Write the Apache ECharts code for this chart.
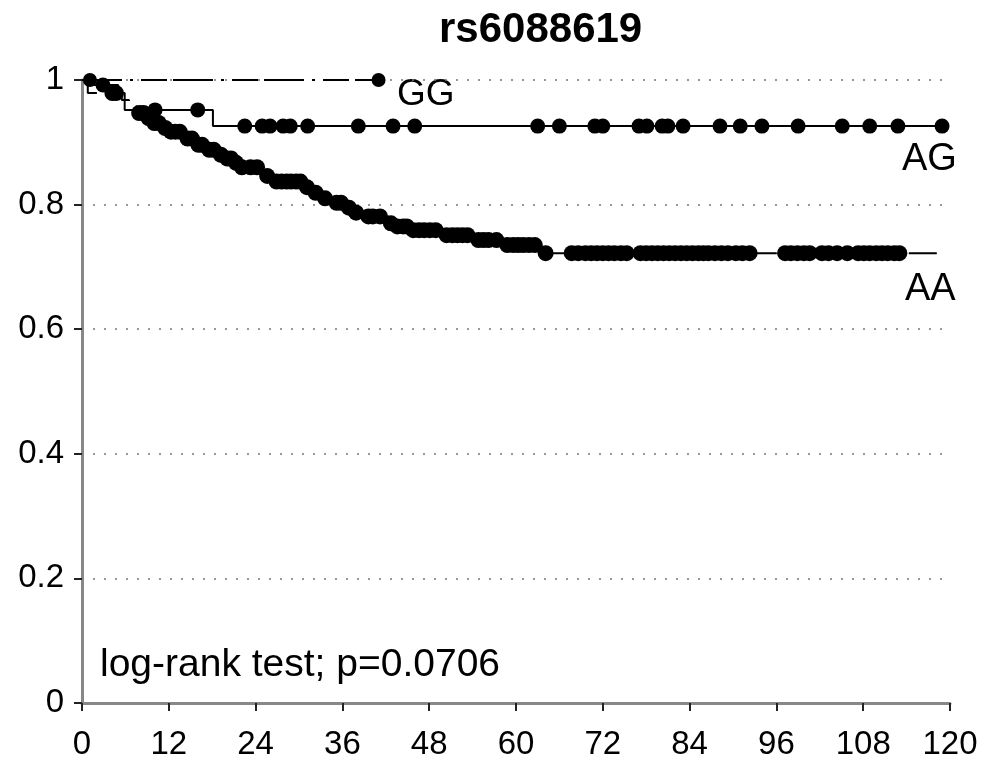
<!DOCTYPE html>
<html>
<head>
<meta charset="utf-8">
<script src="https://cdn.jsdelivr.net/npm/echarts@6/dist/echarts.min.js"></script>
<style>
html,body{margin:0;padding:0;background:#fff;}
#chart{width:981px;height:763px;}
</style>
</head>
<body>
<div id="chart"></div>
<script>
// ---- data ----
const xTicks = [0, 12, 24, 36, 48, 60, 72, 84, 96, 108, 120];
const yTicks = [0, 0.2, 0.4, 0.6, 0.8, 1];

// AA (step function: time where level begins, survival level)
const aaStepTimes = [0, 0.8, 5.5, 6.5, 7.5, 9.0, 9.7, 11.2, 12.0, 14.2, 15.8, 17.2, 18.8, 19.8, 21.0, 21.9, 25.2, 26.4, 30.8, 31.8, 33.0, 34.6, 36.5, 37.6, 39.0, 42.4, 43.3, 45.4, 49.8, 54.3, 58.3, 63.4, 119.6];
const aaStepSurv  = [1, 0.979, 0.968, 0.958, 0.947, 0.939, 0.931, 0.923, 0.917, 0.906, 0.896, 0.888, 0.880, 0.874, 0.867, 0.860, 0.846, 0.837, 0.828, 0.819, 0.810, 0.803, 0.795, 0.787, 0.781, 0.770, 0.765, 0.759, 0.751, 0.743, 0.735, 0.722, 0.722];
const aaCensorTimes = [4.2, 4.7, 7.9, 8.5, 9.2, 10.0, 10.6, 11.5, 12.3, 12.9, 13.5, 14.6, 15.2, 16.1, 16.6, 17.6, 18.2, 19.2, 20.1, 20.6, 21.3, 22.1, 23.3, 24.2, 25.6, 26.9, 27.6, 28.3, 28.9, 29.6, 30.2, 31.1, 32.3, 33.6, 35.2, 35.8, 36.9, 37.9, 39.6, 40.2, 41.2, 42.7, 43.6, 44.4, 44.9, 45.8, 46.6, 47.3, 48.1, 48.9, 50.4, 51.2, 51.9, 52.6, 53.3, 54.8, 55.5, 56.2, 57.3, 58.8, 59.6, 60.3, 61.0, 61.8, 62.6, 64.1, 67.7, 68.6, 69.6, 70.4, 71.2, 72.0, 72.8, 73.6, 74.5, 75.3, 77.2, 78.0, 78.8, 79.6, 80.4, 81.2, 82.0, 82.8, 83.6, 84.4, 85.2, 85.9, 86.6, 87.5, 88.4, 89.3, 90.4, 91.3, 92.3, 97.2, 98.0, 98.9, 99.8, 100.6, 102.3, 103.2, 104.4, 105.8, 107.3, 108.1, 108.9, 109.8, 110.6, 111.4, 112.3, 113.0];

// AG
const agStepTimes = [0, 0.8, 5.0, 5.9, 18.1, 118.9];
const agStepSurv  = [1, 0.992, 0.979, 0.952, 0.926, 0.926];
const agCensorTimes = [2.9, 10.1, 16.0, 22.5, 24.9, 26.0, 27.8, 28.8, 31.2, 38.2, 43.0, 46.0, 63.0, 66.0, 70.9, 72.0, 77.0, 78.1, 80.2, 81.0, 83.1, 88.2, 91.0, 94.0, 99.0, 105.1, 108.9, 112.8, 118.9];

// GG
const ggStepTimes = [0, 41.0];
const ggStepSurv  = [1, 1];
const ggCensorTimes = [1.1, 41.0];

const groupLabels = ['GG', 'AG', 'AA'];
const titleText = 'rs6088619';
const noteText = 'log-rank test; p=0.0706';

// ---- helpers ----
function stepPairs(ts, ss){ return ts.map((t,i)=>[t, ss[i]]); }
function levelAt(ts, ss, t){
  let v = ss[0];
  for (let i=0;i<ts.length;i++){ if (ts[i] <= t) v = ss[i]; }
  return v;
}
function censorPairs(cts, ts, ss){ return cts.map(t=>[t, levelAt(ts, ss, t)]); }

const FONT = 'Liberation Sans, Arial, sans-serif';
const chart = echarts.init(document.getElementById('chart'));

const markerStyle = {color:'#000', opacity:1, borderWidth:0};

const option = {
  animation: false,
  backgroundColor: '#ffffff',
  title: {
    text: titleText,
    left: 434, top: 4,
    textStyle: {fontFamily: FONT, fontSize: 42, fontWeight: 'bold', color: '#000'}
  },
  grid: {left: 82, right: 31, top: 80, bottom: 60, containLabel: false},
  xAxis: {
    type: 'value', min: 0, max: 120, interval: 12,
    axisLine: {show: true, lineStyle: {color: '#888', width: 3}},
    axisTick: {show: true, inside: false, length: 8, lineStyle: {color: '#222', width: 2}},
    axisLabel: {fontFamily: FONT, fontSize: 33, color: '#000', margin: 25,
      formatter: v => xTicks.includes(v) ? String(v) : ''},
    splitLine: {show: false}
  },
  yAxis: {
    type: 'value', min: 0, max: 1, interval: 0.2,
    axisLine: {show: true, lineStyle: {color: '#888', width: 3}},
    axisTick: {show: true, inside: false, length: 8, lineStyle: {color: '#222', width: 2}},
    axisLabel: {fontFamily: FONT, fontSize: 33, color: '#000', margin: 18,
      formatter: v => { const t = yTicks.find(y => Math.abs(y - v) < 1e-9); return t === undefined ? '' : String(t); }},
    splitLine: {show: true, lineStyle: {color: '#777', width: 1.5, type: [2, 9]}}
  },
  series: [
    {name:'AA', type:'line', step:'end', data: stepPairs(aaStepTimes, aaStepSurv), showSymbol:false,
      lineStyle:{color:'#000', width:2, type:[28, 12]}, z:3},
    {name:'AA censored', type:'scatter', data: censorPairs(aaCensorTimes, aaStepTimes, aaStepSurv),
      symbol:'circle', symbolSize:16, itemStyle: markerStyle, clip:false, z:4},
    {name:'AG', type:'line', step:'end', data: stepPairs(agStepTimes, agStepSurv), showSymbol:false,
      lineStyle:{color:'#000', width:2, type:'solid'}, z:3},
    {name:'AG censored', type:'scatter', data: censorPairs(agCensorTimes, agStepTimes, agStepSurv),
      symbol:'circle', symbolSize:15, itemStyle: markerStyle, clip:false, z:4},
    {name:'GG', type:'line', step:'end', data: stepPairs(ggStepTimes, ggStepSurv), showSymbol:false,
      lineStyle:{color:'#000', width:2, type:[40, 8, 3, 8, 26, 6]}, z:3},
    {name:'GG censored', type:'scatter', data: censorPairs(ggCensorTimes, ggStepTimes, ggStepSurv),
      symbol:'circle', symbolSize:14, itemStyle: markerStyle, clip:false, z:4}
  ],
  graphic: [
    {type:'text', left: 397, top: 76, style:{text: groupLabels[0], font: '37px ' + FONT, fill:'#000'}},
    {type:'text', left: 902, top: 141, style:{text: groupLabels[1], font: '38px ' + FONT, fill:'#000'}},
    {type:'text', left: 905, top: 271, style:{text: groupLabels[2], font: '38px ' + FONT, fill:'#000'}},
    {type:'text', left: 100, top: 646, style:{text: noteText, font: '39px ' + FONT, fill:'#000'}}
  ]
};
chart.setOption(option);
</script>
</body>
</html>
